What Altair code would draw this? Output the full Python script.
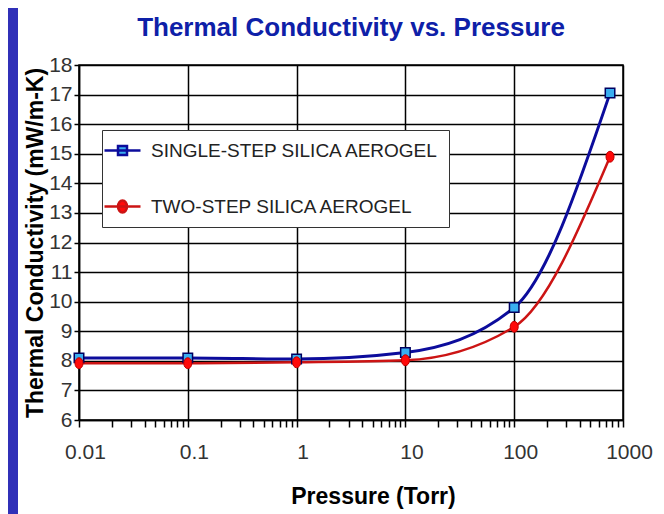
import altair as alt
import pandas as pd

# ---- data ----
pressure = [0.01, 0.1, 1, 10, 100, 760]
single_step = [8.1, 8.1, 8.06, 8.28, 9.8, 17.05]
two_step = [7.92, 7.92, 7.95, 8.02, 9.15, 14.9]
series_names = ["SINGLE-STEP SILICA AEROGEL", "TWO-STEP SILICA AEROGEL"]

minor = [m * d for d in [0.01, 0.1, 1, 10, 100] for m in [1, 2, 3, 4, 5, 6, 7, 8, 9]] + [1000]
x_ticks = [float(f"{v:.6g}") for v in minor]
y_ticks = list(range(6, 19))

rows = []
for p, s in zip(pressure, single_step):
    rows.append({"Pressure": p, "TC": s, "Series": series_names[0]})
for p, t in zip(pressure, two_step):
    rows.append({"Pressure": p, "TC": t, "Series": series_names[1]})
df = pd.DataFrame(rows)

FONT = "Liberation Sans"
LINE_COLORS = ["#0C0C9C", "#CC1414"]
FILL_COLORS = ["#3AAEF0", "#FF0A0A"]

decade_test = "indexof([0.01,0.1,1,10,100,1000], datum.value) >= 0"

x_enc = alt.X(
    "Pressure:Q",
    scale=alt.Scale(type="log", domain=[0.01, 1000], nice=False),
    axis=alt.Axis(
        values=x_ticks,
        labelExpr=f"{decade_test} ? toString(datum.value) : ''",
        gridOpacity={"condition": {"test": decade_test, "value": 1}, "value": 0},
        title="Pressure (Torr)",
        titleX=294, titleY=83, titleBaseline="alphabetic",
        titleAlign="center",
        tickSize=7, labelPadding=14, labelOffset=6,
        labelFlush=False, labelOverlap=False, labelBound=False,
    ),
)
y_enc = alt.Y(
    "TC:Q",
    scale=alt.Scale(domain=[6, 18], nice=False, zero=False),
    axis=alt.Axis(
        values=y_ticks,
        title="Thermal Conductivity (mW/m-K)",
        titleX=-44, titleY=177.5, titleAngle=-90, titleBaseline="middle",
        titleAlign="center",
        tickSize=5, labelPadding=2, labelFlush=False,
    ),
)

base = alt.Chart(df)

line_single = base.transform_filter(alt.datum.Series == series_names[0]).mark_line(
    interpolate="monotone", strokeWidth=3, color=LINE_COLORS[0]
).encode(x=x_enc, y=y_enc)
line_two = base.transform_filter(alt.datum.Series == series_names[1]).mark_line(
    interpolate="monotone", strokeWidth=2.5, color=LINE_COLORS[1]
).encode(x=x_enc, y=y_enc)

squares = base.transform_filter(alt.datum.Series == series_names[0]).mark_square(
    size=90, filled=True, fill=FILL_COLORS[0], stroke="#000060", strokeWidth=1.5, opacity=1
).encode(x=x_enc, y=y_enc)

circles = base.transform_filter(alt.datum.Series == series_names[1]).mark_point(
    shape="M0,-1.15A0.85,1.15,0,1,1,0,1.15A0.85,1.15,0,1,1,0,-1.15Z",
    size=90, filled=True, fill=FILL_COLORS[1], stroke="#C00000", strokeWidth=1, opacity=1
).encode(x=x_enc, y=y_enc)

legend_paths = [
    "M-1.8,0H1.8M-0.45,-0.45H0.45V0.45H-0.45Z",
    "M-1.8,0H1.8M0,-0.6A0.45,0.6,0,1,1,0,0.6A0.45,0.6,0,1,1,0,-0.6Z",
]
legend_def = alt.Legend(
    orient="none", legendX=23, legendY=65, title=None,
    fillColor="white", strokeColor="#333333", padding=9,
    labelFont=FONT, labelFontSize=19, labelColor="#222222", labelOffset=17,
    symbolSize=400, symbolStrokeWidth=2.5, symbolOpacity=1, rowPadding=34, labelLimit=400,
)
legend_layer = base.transform_filter("datum.Pressure < 0").mark_point(filled=True, opacity=1).encode(
    x=x_enc, y=y_enc,
    shape=alt.Shape("Series:N", scale=alt.Scale(domain=series_names, range=legend_paths), legend=legend_def),
    fill=alt.Fill("Series:N", scale=alt.Scale(domain=series_names, range=FILL_COLORS), legend=legend_def),
    stroke=alt.Stroke("Series:N", scale=alt.Scale(domain=series_names, range=LINE_COLORS), legend=legend_def),
)

strip = alt.Chart(alt.Data(values=[{"k": 1}])).mark_rect(color="#3030B8").encode(
    x=alt.value(-71), x2=alt.value(-61), y=alt.value(-57), y2=alt.value(449)
)

chart = alt.layer(strip, line_single, line_two, squares, circles, legend_layer).properties(
    width=544, height=355,
    title=alt.TitleParams(
        "Thermal Conductivity vs. Pressure", anchor="middle", frame="group",
        font=FONT, fontSize=26, fontWeight="bold", color="#0E20A8",
        offset=0, baseline="alphabetic", dy=54,
    ),
    autosize=alt.AutoSizeParams(type="none"),
    padding={"left": 71, "top": 57, "right": 33, "bottom": 94},
).configure(
    background="white",
).configure_view(
    fill="white", stroke="#000000", strokeWidth=1.5,
).configure_axis(
    domainColor="#000000", domainWidth=1.5,
    gridColor="#000000", gridWidth=1.5,
    tickColor="#000000", tickWidth=1.5,
    labelFont=FONT, labelFontSize=21, labelColor="#333333",
    titleFont=FONT, titleFontSize=23, titleFontWeight="bold", titleColor="#000000",
)

chart.save("out.html", embed_options={"renderer": "svg", "actions": False})
